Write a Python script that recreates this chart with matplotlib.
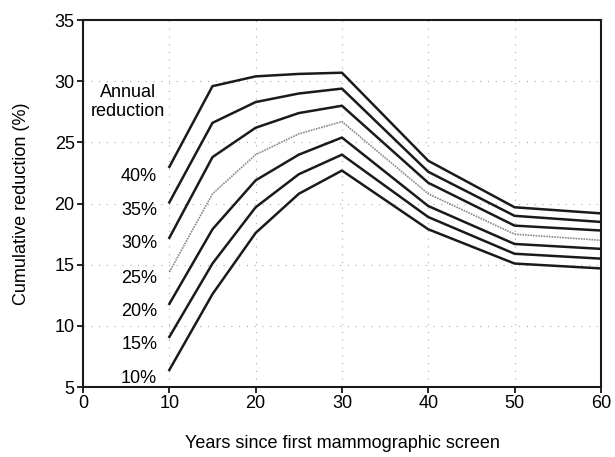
import matplotlib
matplotlib.use('Agg')
import matplotlib.pyplot as plt

plt.rcParams['font.family'] = ['Liberation Sans', 'DejaVu Sans']
plt.rcParams['font.size'] = 13

years = [10, 15, 20, 25, 30, 40, 50, 60]
labels = ['40%', '35%', '30%', '25%', '20%', '15%', '10%']
curves = [
    [23.0, 29.6, 30.4, 30.6, 30.7, 23.5, 19.7, 19.2],
    [20.1, 26.6, 28.3, 29.0, 29.4, 22.6, 19.0, 18.5],
    [17.2, 23.8, 26.2, 27.4, 28.0, 21.7, 18.2, 17.8],
    [14.4, 20.8, 24.0, 25.7, 26.7, 20.8, 17.5, 17.0],
    [11.8, 17.9, 21.9, 24.0, 25.4, 19.8, 16.7, 16.3],
    [9.1, 15.1, 19.7, 22.4, 24.0, 18.9, 15.9, 15.5],
    [6.4, 12.6, 17.6, 20.8, 22.7, 17.9, 15.1, 14.7],
]
label_y = [22.2, 19.4, 16.7, 13.9, 11.2, 8.5, 5.7]

fig = plt.figure(figsize=(6.15, 4.57), dpi=100)
ax = fig.add_axes([0.135, 0.153, 0.842, 0.803])

for name, vals in zip(labels, curves):
    if name == '25%':
        ax.plot(years, vals, color='#8a8a8a', lw=1.2, ls=(0, (1, 0.6)))
    else:
        ax.plot(years, vals, color='#1a1a1a', lw=1.8)

for name, yy in zip(labels, label_y):
    ax.text(8.6, yy, name, ha='right', va='center', fontsize=13)
ax.text(5.2, 28.3, 'Annual\nreduction', ha='center', va='center', fontsize=13,
        linespacing=1.15)

ax.set_xlim(0, 60)
ax.set_ylim(5, 35)
ax.set_xticks(range(0, 61, 10))
ax.set_yticks(range(5, 36, 5))
ax.grid(True, color='#aaaaaa', ls=(0, (1, 6)), lw=0.8)
for s in ax.spines.values():
    s.set_linewidth(1.5)
    s.set_color('#1a1a1a')
ax.tick_params(direction='out', length=4, width=1.2, labelsize=13, pad=2)

ax.set_ylabel('Cumulative reduction (%)', fontsize=13, labelpad=18)
ax.set_xlabel('Years since first mammographic screen', fontsize=13, labelpad=16)

fig.savefig('out.png', dpi=100)
